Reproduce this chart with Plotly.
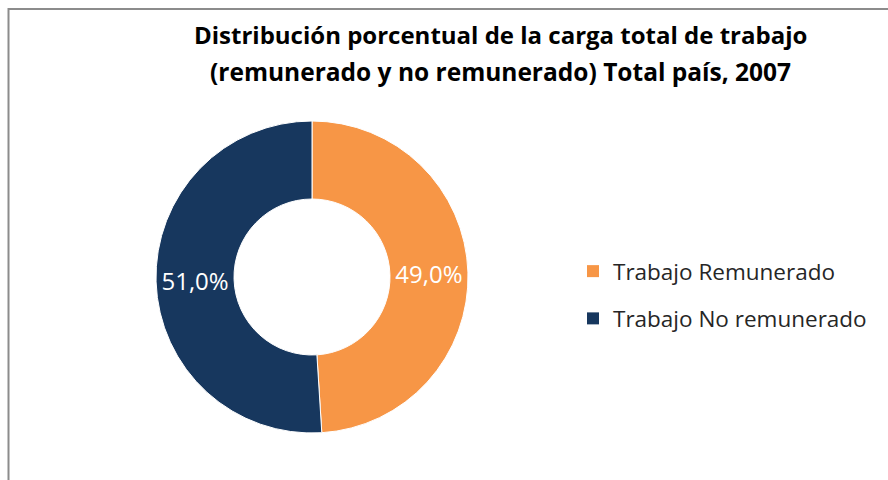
import plotly.graph_objects as go

W, H = 888, 480

categories = ["Trabajo Remunerado", "Trabajo No remunerado"]
values = [49.0, 51.0]
value_labels = ["49,0%", "51,0%"]
colors = ["#F79646", "#17375E"]

title_lines = ["Distribución porcentual de la carga total de trabajo",
               "(remunerado y no remunerado) Total país, 2007"]

FONT = "Open Sans"
cx, cy, r = 312, 277, 156

fig = go.Figure()
fig.add_trace(go.Pie(
    labels=categories,
    values=values,
    text=value_labels,
    textinfo="text",
    textposition="inside",
    insidetextorientation="horizontal",
    textfont=dict(color="white", size=24, family=FONT),
    hole=0.5,
    sort=False,
    direction="clockwise",
    rotation=0,
    marker=dict(colors=colors, line=dict(color="white", width=1)),
    domain=dict(x=[(cx - r) / W, (cx + r) / W], y=[1 - (cy + r) / H, 1 - (cy - r) / H]),
    hoverinfo="label+percent",
    showlegend=False,
))

# legend entries (one group per category so the gap between them can be set)
for name, col in zip(categories, colors):
    fig.add_trace(go.Scatter(
        x=[None], y=[None], mode="markers", name=name, legendgroup=name,
        marker=dict(symbol="square", size=12, color=col, line=dict(width=0)),
        hoverinfo="skip",
    ))

# title as two centred lines
title_y = [35, 71]
title_sizes = [24, 24.5]
annotations = [
    dict(text="<b>" + line + "</b>", xref="paper", yref="paper",
         x=501 / W, xanchor="center", y=1 - yy / H, yanchor="middle",
         showarrow=False, font=dict(size=sz, color="black", family=FONT))
    for line, yy, sz in zip(title_lines, title_y, title_sizes)
]

fig.update_layout(
    width=W, height=H,
    margin=dict(l=0, r=0, t=0, b=0),
    paper_bgcolor="white",
    plot_bgcolor="white",
    font=dict(family=FONT, color="#262626"),
    xaxis=dict(visible=False),
    yaxis=dict(visible=False),
    annotations=annotations,
    legend=dict(
        x=573 / W, xanchor="left",
        y=1 - 295 / H, yanchor="middle",
        font=dict(size=22.5, color="#262626", family=FONT),
        itemsizing="trace",
        tracegroupgap=15,
        bgcolor="rgba(0,0,0,0)",
    ),
    shapes=[dict(
        type="rect", xref="paper", yref="paper",
        x0=8.5 / W, x1=1.05, y0=-0.05, y1=1 - 9 / H,
        line=dict(color="#8C8C8C", width=2),
        fillcolor="rgba(0,0,0,0)",
        layer="below",
    )],
)

fig.write_html("out.html", config={"displayModeBar": False},
               post_script="document.body.style.margin='0';")
